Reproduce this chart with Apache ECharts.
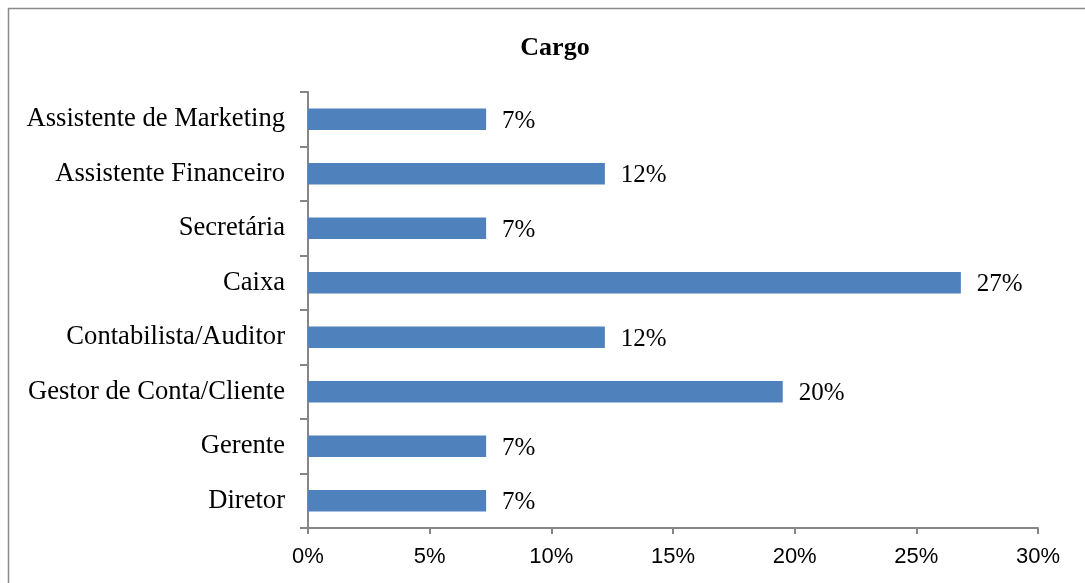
<!DOCTYPE html>
<html>
<head>
<meta charset="utf-8">
<script src="https://cdn.jsdelivr.net/npm/echarts@6/dist/echarts.min.js"></script>
<style>
  html, body { margin: 0; padding: 0; background: #fff; }
  #chart { width: 1085px; height: 583px; }
</style>
</head>
<body>
<div id="chart"></div>
<script>
// categorias (de baixo para cima) e percentagens
const categories = ['Diretor', 'Gerente', 'Gestor de Conta/Cliente', 'Contabilista/Auditor',
  'Caixa', 'Secretária', 'Assistente Financeiro', 'Assistente de Marketing'];
const values = [7.32, 7.32, 19.51, 12.2, 26.83, 7.32, 12.2, 7.32];
const xTicks = [0, 5, 10, 15, 20, 25, 30];

const chart = echarts.init(document.getElementById('chart'));
const axisColor = '#868686';

chart.setOption({
  animation: false,
  backgroundColor: '#fff',
  title: {
    text: 'Cargo',
    left: 550,
    textAlign: 'center',
    top: 30,
    textStyle: { fontFamily: 'Liberation Serif', fontWeight: 'bold', fontSize: 26, color: '#000' }
  },
  graphic: [{
    type: 'rect',
    shape: { x: 8.5, y: 8.5, width: 1100, height: 590 },
    style: { fill: 'none', stroke: '#8a8a8a', lineWidth: 1.5 },
    silent: true
  }],
  grid: { left: 308, right: 47, top: 92, bottom: 55 },
  xAxis: {
    type: 'value',
    min: xTicks[0],
    max: xTicks[xTicks.length - 1],
    interval: 5,
    splitLine: { show: false },
    axisLine: { show: true, lineStyle: { color: axisColor, width: 2 } },
    axisTick: { show: true, length: 6, lineStyle: { color: axisColor, width: 2 } },
    axisLabel: {
      formatter: v => v + '%',
      margin: 18,
      fontFamily: 'Liberation Sans',
      fontSize: 22,
      color: '#000'
    }
  },
  yAxis: {
    type: 'category',
    data: categories,
    axisLine: { show: true, lineStyle: { color: axisColor, width: 2 } },
    axisTick: { show: true, length: 8, lineStyle: { color: axisColor, width: 2 } },
    axisLabel: {
      margin: 23,
      padding: [4, 0, 0, 0],
      fontFamily: 'Liberation Serif',
      fontSize: 26.6,
      color: '#000'
    }
  },
  series: [{
    type: 'bar',
    data: values,
    barWidth: '39%',
    itemStyle: { color: '#4f81bd' },
    label: {
      show: true,
      position: 'right',
      distance: 16,
      offset: [0, 2],
      formatter: p => Math.round(p.value) + '%',
      fontFamily: 'Liberation Serif',
      fontSize: 25,
      color: '#000'
    }
  }]
});
</script>
</body>
</html>
